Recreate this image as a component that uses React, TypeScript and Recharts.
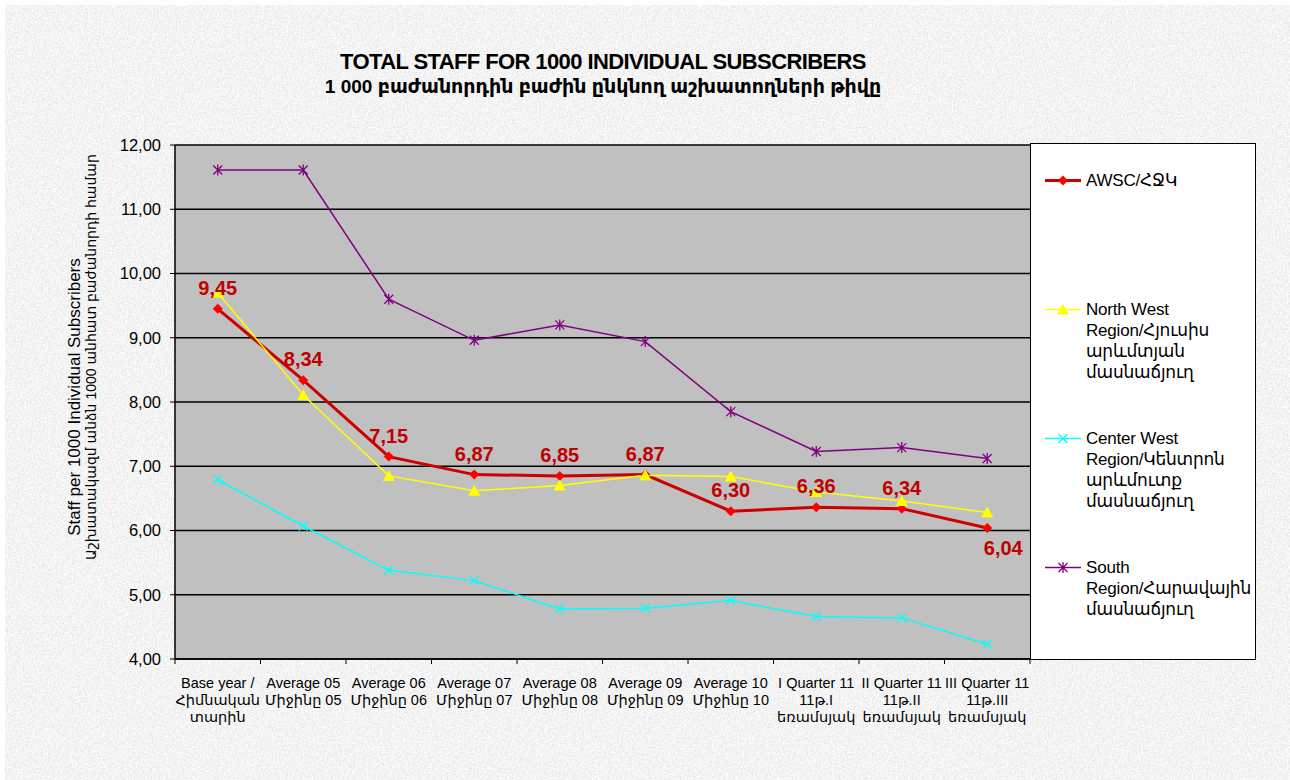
import { CartesianGrid, LabelList, Legend, Line, LineChart, XAxis, YAxis } from "recharts"

// chart values
const CATEGORIES = [
  "Base year /\nՀիմնական\nտարին",
  "Average 05\nՄիջինը 05",
  "Average 06\nՄիջինը 06",
  "Average 07\nՄիջինը 07",
  "Average 08\nՄիջինը 08",
  "Average 09\nՄիջինը 09",
  "Average 10\nՄիջինը 10",
  "I Quarter 11\n11թ.I\nեռամսյակ",
  "II Quarter 11\n11թ.II\nեռամսյակ",
  "III Quarter 11\n11թ.III\nեռամսյակ",
]
const AWSC = [9.45, 8.34, 7.15, 6.87, 6.85, 6.87, 6.3, 6.36, 6.34, 6.04]
const NORTH_WEST = [9.7, 8.11, 6.85, 6.62, 6.7, 6.86, 6.84, 6.6, 6.46, 6.28]
const CENTER_WEST = [6.79, 6.07, 5.38, 5.22, 4.78, 4.79, 4.91, 4.66, 4.64, 4.23]
const SOUTH = [11.61, 11.61, 9.6, 8.96, 9.2, 8.94, 7.85, 7.23, 7.29, 7.12]
const Y_TICKS = [4, 5, 6, 7, 8, 9, 10, 11, 12]

const TITLE = "TOTAL STAFF FOR 1000 INDIVIDUAL SUBSCRIBERS"
const SUBTITLE = "1 000 բաժանորդին բաժին ընկնող աշխատողների թիվը"
const Y_LABEL_1 = "Staff per 1000 Individual Subscribers"
const Y_LABEL_2 = "Աշխատակազմ անձն 1000 անհատ բաժանորդի  համար"

type MarkerKind = "diamond" | "triangle" | "x" | "star"

const SERIES: {
  key: string
  legend: string[]
  color: string
  markerColor: string
  width: number
  marker: MarkerKind
}[] = [
  { key: "awsc", legend: ["AWSC/ՀՋԿ"], color: "#cc0000", markerColor: "#ff0000", width: 3, marker: "diamond" },
  {
    key: "nw",
    legend: ["North West", "Region/Հյուսիս", "արևմտյան", "մասնաճյուղ"],
    color: "#ffff00",
    markerColor: "#ffff00",
    width: 1.5,
    marker: "triangle",
  },
  {
    key: "cw",
    legend: ["Center West", "Region/Կենտրոն", "արևմուտք", "մասնաճյուղ"],
    color: "#00ffff",
    markerColor: "#00ffff",
    width: 1.5,
    marker: "x",
  },
  {
    key: "south",
    legend: ["South", "Region/Հարավային", "մասնաճյուղ"],
    color: "#800080",
    markerColor: "#800080",
    width: 1.5,
    marker: "star",
  },
]

const data = CATEGORIES.map((cat, i) => ({
  cat,
  awsc: AWSC[i],
  nw: NORTH_WEST[i],
  cw: CENTER_WEST[i],
  south: SOUTH[i],
}))

const W = 1290
const H = 780
const PLOT = { left: 175, right: 1030, top: 145, bottom: 659 }
const Y_AXIS_W = 70
const X_AXIS_H = 80
const BAND = (PLOT.right - PLOT.left) / CATEGORIES.length
const FONT = '"Liberation Sans", Arial, "DejaVu Sans", sans-serif'

const fmt = (v: number) => v.toFixed(2).replace(".", ",")

function Marker({ kind, cx, cy, color }: { kind: MarkerKind; cx: number; cy: number; color: string }) {
  if (kind === "diamond")
    return <path d={`M${cx},${cy - 5}L${cx + 5},${cy}L${cx},${cy + 5}L${cx - 5},${cy}Z`} fill={color} />
  if (kind === "triangle")
    return <path d={`M${cx},${cy - 6}L${cx + 6},${cy + 5}L${cx - 6},${cy + 5}Z`} fill={color} />
  const cross = `M${cx - 4.5},${cy - 4.5}L${cx + 4.5},${cy + 4.5}M${cx - 4.5},${cy + 4.5}L${cx + 4.5},${cy - 4.5}`
  if (kind === "x") return <path d={cross} stroke={color} strokeWidth={1.3} fill="none" />
  return <path d={`${cross}M${cx},${cy - 5.5}L${cx},${cy + 5.5}`} stroke={color} strokeWidth={1.3} fill="none" />
}

function CategoryTick(props: any) {
  const { x, payload, index } = props
  const lines = String(payload.value).split("\n")
  const left = x - BAND / 2
  return (
    <g>
      <line x1={left} x2={left} y1={PLOT.bottom} y2={PLOT.bottom + 5} stroke="#000" />
      {index === CATEGORIES.length - 1 && (
        <line x1={x + BAND / 2} x2={x + BAND / 2} y1={PLOT.bottom} y2={PLOT.bottom + 5} stroke="#000" />
      )}
      <text x={x} y={PLOT.bottom + 29} textAnchor="middle" fontSize={14.5} fill="#000" fontFamily={FONT}>
        {lines.map((l, i) => (
          <tspan key={i} x={x} dy={i === 0 ? 0 : 17}>
            {l}
          </tspan>
        ))}
      </text>
    </g>
  )
}

function ValueLabel(props: any) {
  const { x, y, value, index } = props
  const last = index === AWSC.length - 1
  return (
    <text
      x={x + (last ? 16 : 0)}
      y={last ? y + 27 : y - 14}
      textAnchor="middle"
      fontSize={20}
      fontWeight="bold"
      fill="#c00000"
      fontFamily={FONT}
    >
      {fmt(Number(value))}
    </text>
  )
}

function AxisTitle() {
  return (
    <g fontFamily={FONT} fill="#000">
      <text
        x={74}
        y={397}
        fontSize={17}
        transform="rotate(-90 74 397)"
        textAnchor="middle"
        dominantBaseline="central"
      >
        {Y_LABEL_1}
      </text>
      <text
        x={91}
        y={357}
        fontSize={14}
        transform="rotate(-90 91 357)"
        textAnchor="middle"
        dominantBaseline="central"
      >
        {Y_LABEL_2}
      </text>
    </g>
  )
}

function LegendBox() {
  return (
    <div
      style={{
        width: 226,
        height: 517,
        background: "#fff",
        border: "1px solid #000",
        boxSizing: "border-box",
        position: "relative",
        fontFamily: FONT,
        color: "#000",
      }}
    >
      {SERIES.map((s, i) => (
        <div key={s.key} style={{ position: "absolute", left: 14, top: 26 + i * 129, display: "flex" }}>
          <svg width={36} height={21} style={{ flex: "none" }}>
            <line x1={0} x2={36} y1={10.5} y2={10.5} stroke={s.color} strokeWidth={s.width} />
            <Marker kind={s.marker} cx={18} cy={10.5} color={s.markerColor} />
          </svg>
          <div style={{ fontSize: 17, lineHeight: "21px", marginLeft: 5, whiteSpace: "nowrap", letterSpacing: -0.2 }}>
            {s.legend.map((l, j) => (
              <div key={j}>{l}</div>
            ))}
          </div>
        </div>
      ))}
    </div>
  )
}

function Backdrop() {
  // granite-like paper behind the chart
  return (
    <svg width={W - 5} height={H - 5} style={{ position: "absolute", left: 5, top: 5 }}>
      <filter id="granite">
        <feTurbulence type="fractalNoise" baseFrequency="0.55" numOctaves={2} seed={3} />
        <feColorMatrix
          type="matrix"
          values="0.32 0 0 0 0.74  0.32 0 0 0 0.74  0.32 0 0 0 0.74  0 0 0 0 1"
        />
      </filter>
      <rect width="100%" height="100%" fill="#e6e6e6" />
      <rect width="100%" height="100%" filter="url(#granite)" />
    </svg>
  )
}

export default function App() {
  return (
    <div style={{ position: "absolute", left: 0, top: 0, width: W, height: H, background: "#fff", overflow: "hidden" }}>
      <Backdrop />
      <div
        style={{
          position: "absolute",
          left: 603,
          top: 49,
          transform: "translateX(-50%)",
          textAlign: "center",
          whiteSpace: "nowrap",
          fontFamily: FONT,
          color: "#000",
        }}
      >
        <div style={{ fontSize: 22, fontWeight: "bold", letterSpacing: -0.6, lineHeight: "25px" }}>{TITLE}</div>
        <div style={{ fontSize: 19, lineHeight: "25px", fontWeight: 600 }}>{SUBTITLE}</div>
      </div>
      <div style={{ position: "absolute", left: 0, top: 0 }}>
        <LineChart
          width={W}
          height={H}
          data={data}
          margin={{
            top: PLOT.top,
            right: W - PLOT.right,
            left: PLOT.left - Y_AXIS_W,
            bottom: H - PLOT.bottom - X_AXIS_H,
          }}
        >
          <CartesianGrid vertical={false} stroke="#000" strokeWidth={1.5} fill="#c0c0c0" fillOpacity={1} />
          <XAxis
            dataKey="cat"
            interval={0}
            height={X_AXIS_H}
            padding={{ left: BAND / 2, right: BAND / 2 }}
            tickLine={false}
            axisLine={{ stroke: "#000", strokeWidth: 1.5 }}
            tick={<CategoryTick />}
          />
          <YAxis
            width={Y_AXIS_W}
            domain={[4, 12]}
            ticks={Y_TICKS}
            interval={0}
            tickFormatter={fmt}
            tickSize={5}
            tickMargin={9}
            tickLine={{ stroke: "#000" }}
            axisLine={{ stroke: "#000", strokeWidth: 1.5 }}
            tick={{ fill: "#000", fontSize: 16.5, fontFamily: FONT }}
            label={{ content: <AxisTitle /> }}
          />
          <Legend
            layout="horizontal"
            verticalAlign="middle"
            align="center"
            wrapperStyle={{ left: PLOT.right, top: PLOT.top - 2, width: 226, height: 517 }}
            content={<LegendBox />}
          />
          {SERIES.map((s) => (
            <Line
              key={s.key}
              dataKey={s.key}
              name={s.legend.join(" ")}
              type="linear"
              stroke={s.color}
              strokeWidth={s.width}
              isAnimationActive={false}
              activeDot={false}
              dot={(p: any) => (
                <Marker key={`${s.key}-${p.index}`} kind={s.marker} cx={p.cx} cy={p.cy} color={s.markerColor} />
              )}
            />
          ))}
          {/* labels drawn last so they sit above every series, as in the source */}
          <Line
            dataKey="awsc"
            stroke="none"
            dot={false}
            activeDot={false}
            legendType="none"
            isAnimationActive={false}
          >
            <LabelList dataKey="awsc" content={<ValueLabel />} />
          </Line>
        </LineChart>
      </div>
    </div>
  )
}
